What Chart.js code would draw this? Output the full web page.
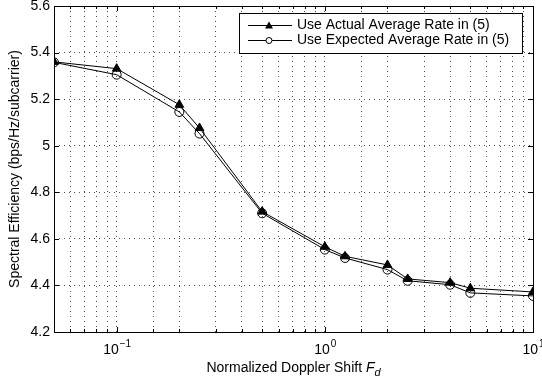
<!DOCTYPE html>
<html>
<head>
<meta charset="utf-8">
<script src="https://cdn.jsdelivr.net/npm/chart.js@4.4.1/dist/chart.umd.min.js"></script>
<style>
    html, body { margin: 0; padding: 0; background: #fff; }
    canvas { display: block; }
</style>
</head>
<body>
<canvas id="chart" width="542" height="386"></canvas>
<script>
// Datos
const dopplerShift = [0.05, 0.1, 0.2, 0.25, 0.5, 1, 1.25, 2, 2.5, 4, 5, 10];
const actualRate   = [5.360, 5.331, 5.176, 5.076, 4.717, 4.566, 4.525, 4.488, 4.428, 4.412, 4.388, 4.372];
const expectedRate = [5.358, 5.305, 5.145, 5.052, 4.710, 4.554, 4.518, 4.468, 4.420, 4.403, 4.368, 4.355];
const seriesLabels = ['Use Actual Average Rate in (5)', 'Use Expected Average Rate in (5)'];
const xDecades = [0.1, 1, 10];
const xDecadeExponents = ['\u22121', '0', '1'];

const FONT = "'Liberation Sans', Arial, Helvetica, sans-serif";
const FS = 14;
const INK = '#000';

/**
 * Marco estilo MATLAB: caja, ticks hacia dentro, etiquetas 10^n, título X y leyenda
 */
const matlabFrame = {
    id: 'matlabFrame',
    afterDraw(chart) {
        const { ctx, chartArea: a, scales } = chart;
        const xs = scales.x, ys = scales.y;
        ctx.save();

        // caja
        ctx.strokeStyle = INK;
        ctx.lineWidth = 1;
        ctx.strokeRect(Math.round(a.left) + 0.5, Math.round(a.top) + 0.5,
            Math.round(a.right - a.left), Math.round(a.bottom - a.top));

        // ticks hacia dentro
        ctx.beginPath();
        xs.ticks.forEach(t => {
            const px = Math.round(xs.getPixelForValue(t.value)) + 0.5;
            const major = xDecades.some(d => Math.abs(d - t.value) < 1e-9);
            const len = major ? 5 : 3;
            ctx.moveTo(px, a.bottom); ctx.lineTo(px, a.bottom - len);
            ctx.moveTo(px, a.top); ctx.lineTo(px, a.top + len);
        });
        ys.ticks.forEach(t => {
            const py = Math.round(ys.getPixelForValue(t.value)) + 0.5;
            ctx.moveTo(a.left, py); ctx.lineTo(a.left + 5, py);
            ctx.moveTo(a.right, py); ctx.lineTo(a.right - 5, py);
        });
        ctx.stroke();

        // etiquetas del eje X: 10^n
        ctx.fillStyle = INK;
        ctx.textBaseline = 'alphabetic';
        xDecades.forEach((v, i) => {
            const px = xs.getPixelForValue(v);
            ctx.font = `${FS}px ${FONT}`;
            const wb = ctx.measureText('10').width;
            ctx.font = `10px ${FONT}`;
            const we = ctx.measureText(xDecadeExponents[i]).width;
            const x0 = px - (wb + we) / 2;
            const base = a.bottom + 22;
            ctx.font = `${FS}px ${FONT}`;
            ctx.fillText('10', x0, base);
            ctx.font = `10px ${FONT}`;
            ctx.fillText(xDecadeExponents[i], x0 + wb + 1, base - 7);
        });

        // título eje X con F_d en cursiva
        const t1 = 'Normalized Doppler Shift ';
        ctx.font = `${FS}px ${FONT}`;
        const w1 = ctx.measureText(t1).width;
        ctx.font = `italic ${FS}px ${FONT}`;
        const w2 = ctx.measureText('F').width;
        ctx.font = `italic 11px ${FONT}`;
        const w3 = ctx.measureText('d').width;
        const cx = (a.left + a.right) / 2;
        let tx = cx - (w1 + w2 + w3) / 2;
        const tb = a.bottom + 40;
        ctx.font = `${FS}px ${FONT}`;
        ctx.fillText(t1, tx, tb);
        tx += w1;
        ctx.font = `italic ${FS}px ${FONT}`;
        ctx.fillText('F', tx, tb);
        tx += w2;
        ctx.font = `italic 11px ${FONT}`;
        ctx.fillText('d', tx, tb + 4);

        // leyenda
        const lx = a.left + 185, ly = a.top + 7, lw = 283, lh = 40;
        ctx.fillStyle = '#fff';
        ctx.fillRect(lx, ly, lw, lh);
        ctx.strokeStyle = INK;
        ctx.strokeRect(lx + 0.5, ly + 0.5, lw, lh);
        chart.data.datasets.forEach((ds, i) => {
            const ry = ly + 12 + i * 15 + 0.5;
            ctx.beginPath();
            ctx.strokeStyle = INK;
            ctx.moveTo(lx + 9, ry); ctx.lineTo(lx + 53, ry);
            ctx.stroke();
            const mx = lx + 30;
            if (ds.pointStyle === 'triangle') {
                ctx.fillStyle = INK;
                ctx.beginPath();
                ctx.moveTo(mx, ry - 4); ctx.lineTo(mx + 4, ry + 3); ctx.lineTo(mx - 4, ry + 3);
                ctx.closePath(); ctx.fill();
            } else {
                ctx.fillStyle = '#fff';
                ctx.beginPath();
                ctx.arc(mx, ry, 3, 0, Math.PI * 2);
                ctx.fill(); ctx.stroke();
            }
            ctx.fillStyle = INK;
            ctx.font = `${FS}px ${FONT}`;
            ctx.textBaseline = 'middle';
            ctx.fillText(ds.label, lx + 58, ry);
        });
        ctx.restore();
    }
};

const dotted = { color: 'rgba(0,0,0,0.7)', lineWidth: 1, drawTicks: false };

new Chart(document.getElementById('chart'), {
    type: 'line',
    data: {
        labels: dopplerShift,
        datasets: [
            {
                label: seriesLabels[0],
                data: dopplerShift.map((x, i) => ({ x, y: actualRate[i] })),
                borderColor: INK,
                borderWidth: 1,
                backgroundColor: INK,
                pointStyle: 'triangle',
                pointRadius: 5,
                pointBackgroundColor: INK,
                pointBorderColor: INK,
                tension: 0
            },
            {
                label: seriesLabels[1],
                data: dopplerShift.map((x, i) => ({ x, y: expectedRate[i] })),
                borderColor: INK,
                borderWidth: 1,
                backgroundColor: '#fff',
                pointStyle: 'circle',
                pointRadius: 4.5,
                pointBackgroundColor: 'rgba(255,255,255,0)',
                pointBorderColor: INK,
                pointBorderWidth: 1,
                tension: 0
            }
        ]
    },
    options: {
        responsive: false,
        animation: false,
        devicePixelRatio: 1,
        layout: { padding: { top: 5, right: 9, left: 0, bottom: 0 } },
        plugins: {
            legend: { display: false },
            tooltip: { enabled: false }
        },
        scales: {
            x: {
                type: 'logarithmic',
                min: 0.05,
                max: 10,
                grid: { ...dotted },
                border: { display: false, dash: [1, 4] },
                ticks: { display: false, autoSkip: false },
                afterFit: (s) => { s.height = 54; }
            },
            y: {
                min: 4.2,
                max: 5.6,
                grid: { ...dotted },
                border: { display: false, dash: [1, 4] },
                ticks: {
                    stepSize: 0.2,
                    padding: 4,
                    color: INK,
                    font: { family: FONT, size: FS },
                    callback: (v) => String(+v.toFixed(1))
                },
                title: {
                    display: true,
                    text: 'Spectral Efficiency (bps/Hz/subcarrier)',
                    color: INK,
                    font: { family: FONT, size: FS },
                    padding: { top: 7, bottom: 2 }
                },
                afterFit: (s) => { s.width = 54; s.paddingTop = 0; s.paddingBottom = 0; }
            }
        }
    },
    plugins: [matlabFrame]
});
</script>
</body>
</html>
